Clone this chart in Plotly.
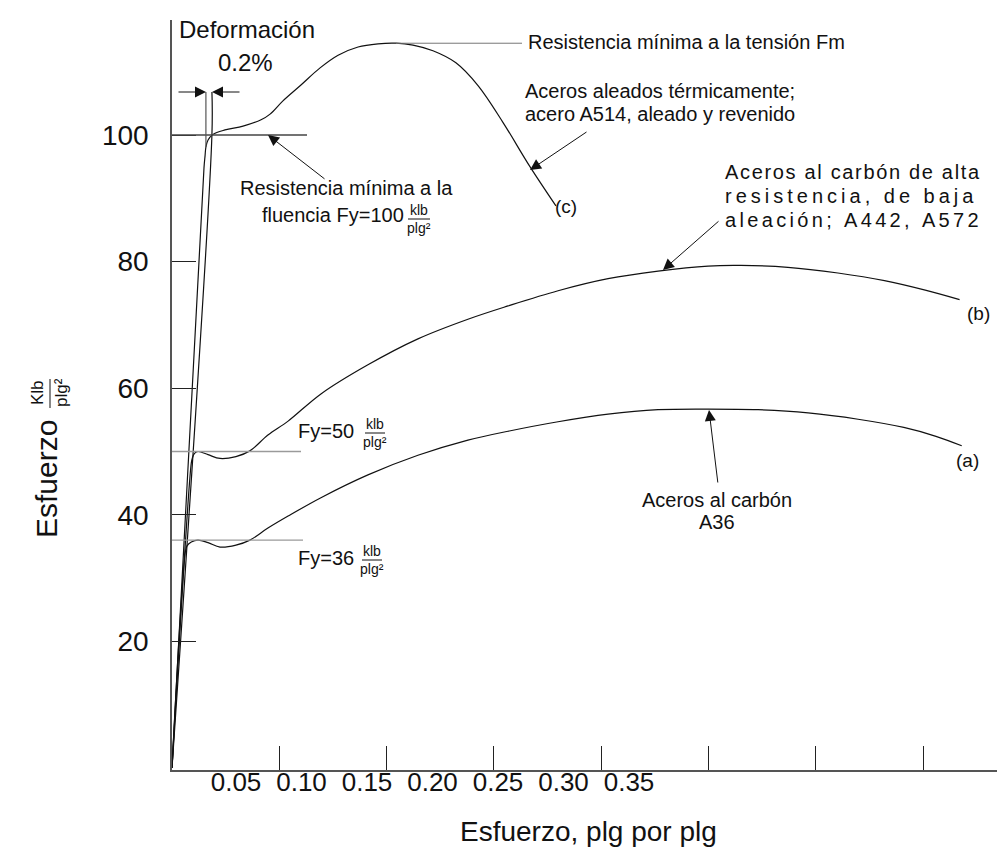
import plotly.graph_objects as go

# ---------------- data (strain, stress in klb/plg²) ----------------
x_tick_marks = [0.05, 0.10, 0.15, 0.20, 0.25, 0.30, 0.35]
x_tick_labels = ["0.05", "0.10", "0.15", "0.20", "0.25", "0.30", "0.35"]
y_ticks = [20, 40, 60, 80, 100]
y_tick_labels = ["20", "40", "60", "80", "100"]

fy_values = [36, 50, 100]

# (a) A36 carbon steel
strain_a = [0, 0.0063, 0.0070, 0.0090, 0.0121, 0.0168, 0.0224, 0.0298, 0.0363, 0.0447,
            0.0541, 0.0694, 0.0913, 0.1146, 0.1379, 0.1566, 0.1799, 0.2032, 0.2265,
            0.2498, 0.2731, 0.2964, 0.3197, 0.3410, 0.3560, 0.3680]
stress_a = [0, 34.3, 35.1, 35.7, 36.0, 35.6, 34.9, 35.2, 36.0, 37.9,
            39.8, 42.7, 46.3, 49.4, 51.8, 53.2, 54.7, 55.9, 56.6,
            56.7, 56.6, 56.1, 55.1, 53.8, 52.4, 50.9]

# (b) high-strength low-alloy steel
strain_b = [0, 0.0090, 0.0095, 0.0105, 0.0121, 0.0168, 0.0224, 0.0298, 0.0363, 0.0447,
            0.0541, 0.0694, 0.0913, 0.1146, 0.1379, 0.1566, 0.1799, 0.2032, 0.2265,
            0.2498, 0.2651, 0.2870, 0.3103, 0.3320, 0.3510, 0.3670]
stress_b = [0, 48.2, 49.0, 49.7, 50.0, 49.5, 48.9, 49.2, 50.1, 52.6,
            54.8, 59.1, 63.7, 67.8, 70.9, 73.0, 75.4, 77.3, 78.5,
            79.3, 79.4, 79.1, 78.2, 77.0, 75.5, 74.0]

# (c) quenched and tempered alloy steel
strain_c = [0, 0.0149, 0.0154, 0.0158, 0.0168, 0.0191, 0.0247, 0.0331, 0.0415, 0.0457,
            0.0517, 0.0601, 0.0690, 0.0774, 0.0867, 0.0960, 0.1044, 0.1123, 0.1216,
            0.1323, 0.1426, 0.1542, 0.1668, 0.1789]
stress_c = [0, 94.8, 96.7, 98.1, 99.2, 100.1, 100.8, 101.4, 102.4, 103.3,
            105.4, 107.9, 110.6, 112.6, 113.9, 114.4, 114.5, 114.2, 113.3,
            111.4, 107.8, 102.0, 95.0, 88.8]

# 0.2 % offset construction line
offset_strain = [0, 0.0186, 0.0186]
offset_stress = [0, 100, 106.8]

# ---------------- layout geometry ----------------
W, H = 1005, 862
L, R, T, B = 164, 0, 12, 100
PW, PH = W - L - R, H - T - B
X_PER_PX = 1 / 2146.0          # curve / tick-mark scale
LAB_PER_PX = 1 / 1310.0        # scale of the printed strain labels
LAB0_PX = 162.5
Y_PER_PX = 1 / 6.33
Y0_PX = 760  # pixel row of stress = 0

x_range = [0, PW * X_PER_PX]
x2_range = [(L - LAB0_PX) * LAB_PER_PX, (W - R - LAB0_PX) * LAB_PER_PX]
y_range = [(Y0_PX - (T + PH)) * Y_PER_PX, (Y0_PX - T) * Y_PER_PX]


def dx(px):
    return (px - L) * X_PER_PX


def dy(py):
    return (Y0_PX - py) * Y_PER_PX


def pxp(px):
    return (px - L) / PW


def pyp(py):
    return (T + PH - py) / PH


FONT = "Liberation Sans, Arial, Helvetica, sans-serif"
INK = "#111111"

fig = go.Figure()

line_style = dict(color=INK, width=1.2)
for xs, ys in [(offset_strain, offset_stress), (strain_c, stress_c),
               (strain_b, stress_b), (strain_a, stress_a)]:
    fig.add_trace(go.Scatter(x=xs, y=ys, mode="lines", line=line_style,
                             line_shape="spline", showlegend=False,
                             hoverinfo="skip"))
# empty trace carrying the label axis
fig.add_trace(go.Scatter(x=[], y=[], xaxis="x2", yaxis="y", showlegend=False,
                         hoverinfo="skip"))

shapes = []
# yield lines
yield_ends = {36: (161, 295, "#9a9a9a"), 50: (158, 293, "#9a9a9a"), 100: (164, 299, "#444444")}
for fy in fy_values:
    x0p, x1p, col = yield_ends[fy]
    shapes.append(dict(type="line", xref="x", yref="y", x0=dx(x0p), x1=dx(x1p),
                       y0=fy, y1=fy, line=dict(color=col, width=1.4)))
# dimension (0.2 %) vertical line
shapes.append(dict(type="line", xref="x", yref="y", x0=strain_c[3], x1=strain_c[3],
                   y0=stress_c[3], y1=offset_stress[2], line=dict(color="#555555", width=1.2)))
# leader to Fm label
i_pk = stress_c.index(max(stress_c))
shapes.append(dict(type="line", xref="x", yref="y", x0=strain_c[i_pk], x1=dx(514),
                   y0=stress_c[i_pk], y1=stress_c[i_pk], line=dict(color="#777777", width=1)))


# fraction bars
def hbar(cx, py, half):
    shapes.append(dict(type="line", xref="paper", yref="paper",
                       x0=pxp(cx - half), x1=pxp(cx + half), y0=pyp(py), y1=pyp(py),
                       line=dict(color=INK, width=1)))


hbar(411, 211, 11)
hbar(367, 425, 10)
hbar(364, 552, 10)
shapes.append(dict(type="line", xref="paper", yref="paper", x0=pxp(42), x1=pxp(42),
                   y0=pyp(371), y1=pyp(400), line=dict(color=INK, width=1)))

ann = []


def txt(s, px, py, size=20, xanchor="center", angle=0):
    ann.append(dict(text=s, xref="paper", yref="paper", x=pxp(px), y=pyp(py),
                    xanchor=xanchor, yanchor="middle", showarrow=False,
                    textangle=angle, font=dict(family=FONT, size=size, color=INK)))


def arrow(tip, tail):
    ann.append(dict(text="", xref="x", yref="y", axref="x", ayref="y",
                    x=dx(tip[0]), y=dy(tip[1]), ax=dx(tail[0]), ay=dy(tail[1]),
                    showarrow=True, arrowhead=2, arrowsize=2.2, arrowwidth=1,
                    arrowcolor=INK, standoff=0, startstandoff=0))


HS = "\u200a"
TS = "\u2009"

txt("Deformación", 239, 21, 24)
txt("0.2%", 237, 54, 24)
txt("Resistencia mínima a la tensión Fm", 518, 34, 20, "left")
txt("Aceros aleados térmicamente;", 515, 83, 20, "left")
txt("acero A514, aleado y revenido", 515, 106, 20, "left")
txt(HS.join("Aceros al carbón de alta"), 715, 164, 20, "left")
txt(TS.join("resistencia, de baja"), 715, 188, 20, "left")
txt((HS + HS).join("aleación; A442, A572"), 715, 212, 20, "left")
txt("(c)", 545, 199, 19, "left")
txt("(b)", 970, 305, 19)
txt("(a)", 959, 452, 19)
txt("Resistencia mínima a la", 230, 180, 20, "left")
txt("fluencia Fy=100", 252, 207, 20, "left")
txt("klb", 411, 202, 14)
txt("plg²", 411, 220, 14)
txt("Fy=50", 318, 423, 20)
txt("klb", 367, 416, 14)
txt("plg²", 367, 434, 14)
txt("Fy=36", 318, 550, 20)
txt("klb", 364, 543, 14)
txt("plg²", 364, 561, 14)
txt("Aceros al carbón", 709, 492, 20)
txt("A36", 709, 514, 20)
txt("Esfuerzo", 38, 471, 30, angle=-90)
txt("Klb", 30, 385, 17, angle=-90)
txt("plg²", 54, 385, 17, angle=-90)
txt("Esfuerzo, plg por plg", 580, 823, 28)

arrow((198, 84), (169, 84))
arrow((204, 84), (233, 84))
arrow((260, 127), (318, 172))
arrow((522, 162), (580, 123))
arrow((655, 262), (712, 212))
arrow((701, 402), (710, 476))

fig.update_layout(
    width=W, height=H,
    margin=dict(l=L, r=R, t=T, b=B, pad=0),
    paper_bgcolor="white", plot_bgcolor="white",
    showlegend=False,
    font=dict(family=FONT, color=INK),
    shapes=shapes, annotations=ann,
    xaxis=dict(range=x_range, tickvals=x_tick_marks, showticklabels=False,
               ticks="inside", ticklen=24, tickwidth=1.2, tickcolor="#222222",
               showline=True, linecolor="#555555", linewidth=1.6,
               showgrid=False, zeroline=False),
    xaxis2=dict(range=x2_range, overlaying="x", anchor="y", side="bottom",
                tickvals=x_tick_marks, ticktext=x_tick_labels, ticks="",
                showline=False, showgrid=False, zeroline=False,
                tickfont=dict(family=FONT, size=26, color=INK),
                ticklabelstandoff=-6),
    yaxis=dict(range=y_range, tickvals=y_ticks, ticktext=y_tick_labels,
               ticks="inside", ticklen=24, tickwidth=1.2, tickcolor="#222222",
               showline=True, linecolor="#555555", linewidth=1.6,
               showgrid=False, zeroline=False,
               tickfont=dict(family=FONT, size=28, color=INK),
               ticklabelstandoff=16),
)

fig.write_html("out.html")
